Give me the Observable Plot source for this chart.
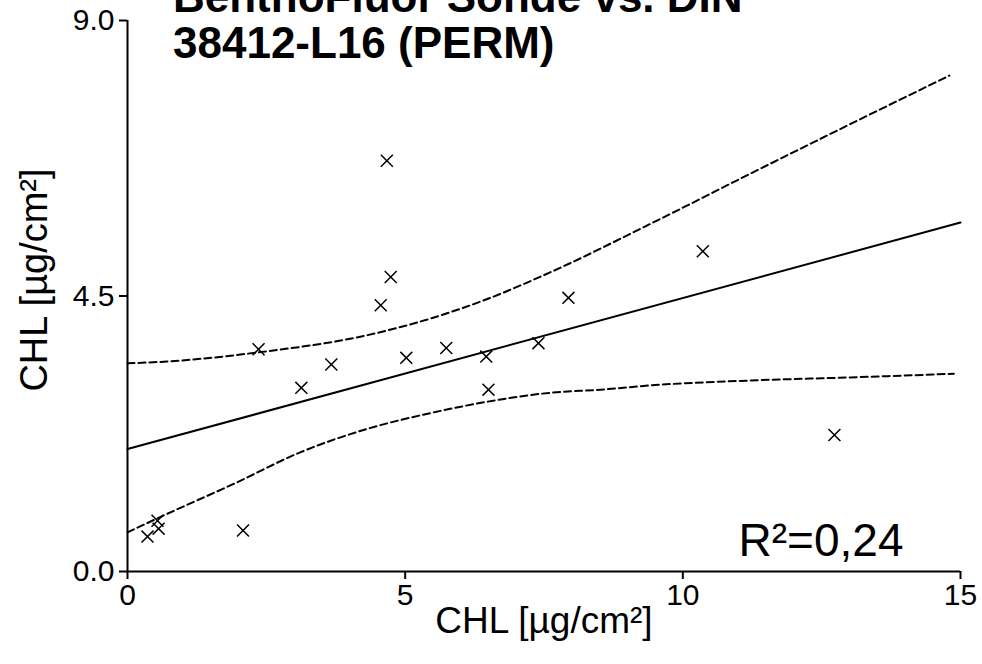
<!DOCTYPE html>
<html><head><meta charset="utf-8">
<script src="https://cdn.jsdelivr.net/npm/d3@7"></script>
<script src="https://cdn.jsdelivr.net/npm/@observablehq/plot@0.6"></script>
<style>
body{margin:0;background:#fff;overflow:hidden;}
#wrap{position:relative;width:982px;height:664px;overflow:hidden;}
#title{position:absolute;left:173px;top:-26px;font:bold 44px "Liberation Sans",Arial,sans-serif;line-height:46px;color:#000;white-space:nowrap;}
</style></head><body>
<div id="wrap"></div>
<script>
// measured points (CHL sonde vs CHL DIN)
const pointX = [0.36,0.54,0.56,2.08,2.36,3.13,3.67,4.56,4.67,4.74,5.02,5.74,6.46,6.50,7.40,7.94,10.36,12.73];
const pointY = [0.57,0.83,0.70,0.67,3.63,3.00,3.38,4.35,6.71,4.81,3.49,3.65,3.51,2.97,3.73,4.47,5.23,2.23];
// regression line
const fitX = [0, 15];
const fitY = [2.00, 5.70];
// confidence band curves
const upperX = [0, 0.71, 2.36, 4.32, 5.52, 6.42, 7.62, 9.42, 11.22, 13.02, 14.8];
const upperY = [3.40, 3.43, 3.58, 3.86, 4.15, 4.43, 4.89, 5.68, 6.50, 7.31, 8.10];
const lowerX = [0, 0.71, 1.91, 3.12, 4.32, 5.52, 6.72, 7.62, 8.52, 9.42, 11.22, 13.02, 14.88];
const lowerY = [0.64, 0.94, 1.43, 1.95, 2.33, 2.60, 2.81, 2.92, 2.97, 3.04, 3.12, 3.17, 3.23];
const xTicks = [0, 5, 10, 15];
const yTicks = [0, 4.5, 9];
const titleLines = ["BenthoFluor Sonde vs. DIN", "38412-L16 (PERM)"];
const xLabel = "CHL [µg/cm²]";
const yLabel = "CHL [µg/cm²]";
const r2Label = "R²=0,24";

const pts = pointX.map((x, i) => ({x, y: pointY[i]}));
const fit = fitX.map((x, i) => ({x, y: fitY[i]}));
const upper = upperX.map((x, i) => ({x, y: upperY[i]}));
const lower = lowerX.map((x, i) => ({x, y: lowerY[i]}));

const font = '"Liberation Sans", Arial, sans-serif';
const chart = Plot.plot({
  width: 982, height: 664,
  marginLeft: 127, marginRight: 22, marginTop: 20, marginBottom: 93,
  style: {fontFamily: font, background: "white", color: "black"},
  x: {domain: [0, 15]},
  y: {domain: [0, 9]},
  marks: [
    Plot.axisX({ticks: xTicks, tickSize: 8, tickPadding: 4, fontSize: 30, label: null, strokeWidth: 2}),
    Plot.axisY({ticks: yTicks, tickSize: 8, tickPadding: 5, fontSize: 30, label: null, strokeWidth: 2, tickFormat: d => d.toFixed(1)}),
    Plot.ruleX([0], {strokeWidth: 2}),
    Plot.ruleY([0], {strokeWidth: 2}),
    Plot.line(upper, {x: "x", y: "y", curve: "monotone-x", strokeWidth: 2, strokeDasharray: "7,4"}),
    Plot.line(lower, {x: "x", y: "y", curve: "monotone-x", strokeWidth: 2, strokeDasharray: "7,4"}),
    Plot.line(fit, {x: "x", y: "y", strokeWidth: 2}),
    Plot.dot(pts, {x: "x", y: "y", symbol: "times", r: 5.5, stroke: "black", strokeWidth: 1.5}),
    Plot.text([xLabel], {frameAnchor: "bottom", textAnchor: "middle", lineAnchor: "middle", dy: 50, fontSize: 37}),
    Plot.text([yLabel], {frameAnchor: "left", textAnchor: "middle", lineAnchor: "middle", dx: -93, dy: -16, rotate: -90, fontSize: 38}),
    Plot.text([r2Label], {frameAnchor: "bottom-right", textAnchor: "end", lineAnchor: "middle", dx: -57, dy: -30, fontSize: 46})
  ]
});
const wrap = document.getElementById("wrap");
wrap.appendChild(chart);
const t = document.createElement("div");
t.id = "title";
t.innerHTML = titleLines.join("<br>");
wrap.appendChild(t);
</script>
</body></html>
